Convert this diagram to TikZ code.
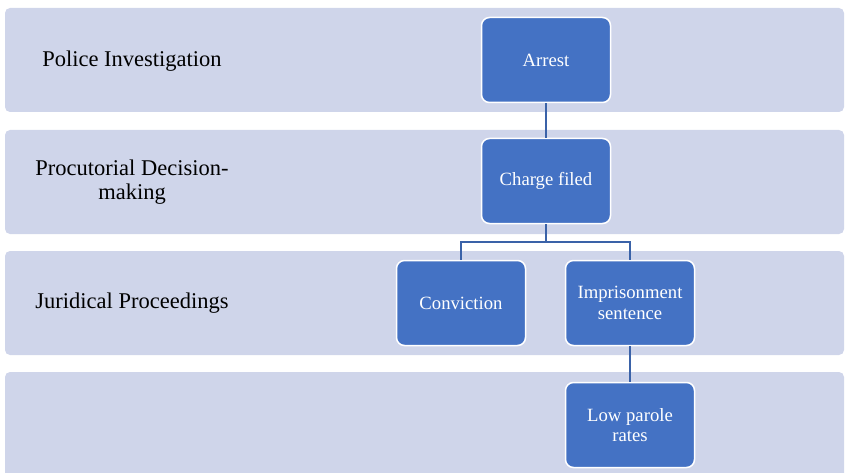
\documentclass[tikz,border=0pt]{standalone}
\usepackage{fontspec}
\setmainfont{Liberation Serif}
\definecolor{bandfill}{HTML}{CFD5EA}
\definecolor{boxfill}{HTML}{4472C4}
\definecolor{linkcol}{HTML}{3A62A8}
\begin{document}
\begin{tikzpicture}[x=1pt,y=-1pt,
  band/.style={fill=bandfill, draw=none, rounded corners=5pt},
  lanelabel/.style={font=\fontsize{22.5}{24}\selectfont, align=center, text=black},
  stepbox/.style={draw=white, line width=1.5pt, fill=boxfill, rounded corners=8pt,
     minimum width=129pt, minimum height=85pt, text=white, align=center,
     font=\fontsize{18.7}{20.5}\selectfont},
  link/.style={draw=linkcol, line width=1.5pt}]
\useasboundingbox (0,0) rectangle (845,473);
\clip (0,0) rectangle (845,473);
% bands
\path[band] (5,8) rectangle (844,112);
\path[band] (5,130) rectangle (844,234);
\path[band] (5,251) rectangle (844,355);
\path[band] (5,372) rectangle (844,490);
% lane labels
\node[lanelabel] (l1) at (132,61) {Police Investigation};
\node[lanelabel] (l2) at (132,182) {Procutorial Decision-\\making};
\node[lanelabel] (l3) at (132,303) {Juridical Proceedings};
% boxes
\node[stepbox] (arrest) at (546,60) {Arrest};
\node[stepbox] (charge) at (546,181) {Charge filed};
\node[stepbox] (conv) at (461,303) {Conviction};
\node[stepbox] (impr) at (630,303) {Imprisonment\\sentence};
\node[stepbox] (parole) at (630,425) {Low parole\\rates};
% connectors
\coordinate (split) at (546,242);
\draw[link] (arrest) -- (charge);
\draw[link] (charge) -- (split) -| (conv);
\draw[link] (split) -| (impr);
\draw[link] (impr) -- (parole);
\end{tikzpicture}
\end{document}
